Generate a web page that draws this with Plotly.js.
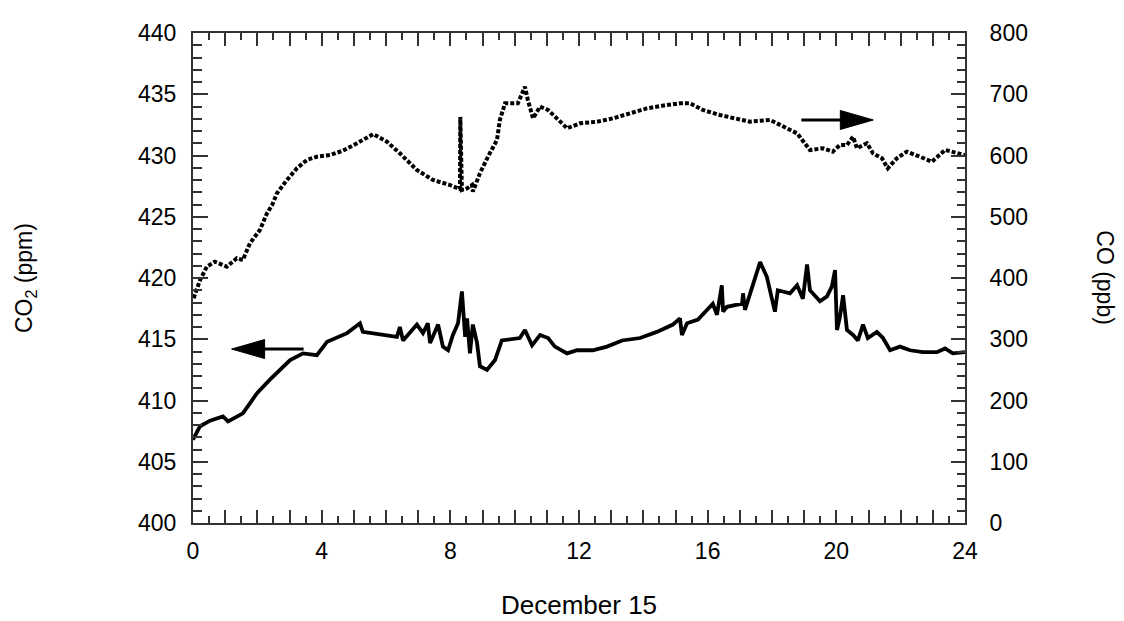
<!DOCTYPE html>
<html>
<head>
<meta charset="utf-8">
<script src="https://cdn.plot.ly/plotly-3.0.1.min.js"></script>
<style>html,body{margin:0;padding:0;background:#fff;}#chart{width:1124px;height:621px;}</style>
</head>
<body>
<div id="chart"></div>
<script>
// CO2 (ppm), left axis
const co2Hours = [0.0,0.22,0.53,0.93,1.09,1.55,1.99,2.39,3.02,3.42,3.85,4.17,4.79,5.19,5.28,5.9,6.34,6.43,6.53,6.96,7.15,7.3,7.37,7.62,7.77,7.93,8.08,8.24,8.36,8.46,8.52,8.61,8.70,8.83,8.92,9.14,9.39,9.6,10.16,10.32,10.54,10.79,11.04,11.25,11.63,11.94,12.43,12.87,13.34,13.9,14.42,14.92,15.14,15.2,15.36,15.7,15.85,16.16,16.29,16.44,16.48,16.6,17.07,17.1,17.16,17.38,17.63,17.84,18.09,18.18,18.56,18.78,18.96,19.09,19.18,19.49,19.71,19.86,19.96,20.02,20.11,20.21,20.33,20.52,20.67,20.83,20.98,21.26,21.45,21.67,21.98,22.29,22.69,23.13,23.38,23.62,24.0];
const co2Values = [406.8,407.9,408.35,408.7,408.3,408.95,410.6,411.7,413.3,413.85,413.7,414.8,415.5,416.3,415.6,415.35,415.2,416.0,414.9,416.2,415.5,416.3,414.7,416.2,414.4,414.1,415.35,416.3,418.9,415.2,416.7,413.85,416.2,414.7,412.8,412.5,413.3,414.9,415.1,415.75,414.5,415.35,415.1,414.4,413.85,414.1,414.1,414.4,414.9,415.1,415.6,416.2,416.7,415.35,416.3,416.6,417.0,417.9,417.0,419.4,417.25,417.65,417.9,418.75,417.4,419.3,421.3,420.1,417.25,419.0,418.75,419.4,418.3,421.1,419.0,418.1,418.5,419.3,420.65,415.75,416.8,418.6,415.75,415.35,414.9,416.2,415.1,415.6,415.1,414.1,414.4,414.1,413.95,413.95,414.25,413.85,413.95];

// CO (ppb), right axis
const coHours = [0.02,0.22,0.43,0.68,1.05,1.36,1.55,1.77,2.08,2.3,2.46,2.61,2.92,3.23,3.54,3.85,4.26,4.66,5.1,5.6,6.03,6.43,6.96,7.46,7.99,8.08,8.30,8.31,8.33,8.36,8.52,8.67,8.7,8.92,9.17,9.45,9.54,9.7,10.1,10.32,10.41,10.57,10.79,11.04,11.31,11.63,12.03,12.56,13.06,13.58,14.11,14.73,15.14,15.45,15.85,16.38,16.91,17.31,17.94,18.34,18.78,19.02,19.18,19.58,19.89,20.11,20.33,20.52,20.64,20.95,21.14,21.42,21.6,21.88,22.19,22.6,22.97,23.38,23.75,24.0];
const coValues = [367,396.7,418.5,426.7,418.5,432.2,429.4,456.7,478.4,505.6,519.2,538.3,560,579.1,592.7,598,600.8,607.8,620,635,622.5,603.6,576.3,560,551.8,550.2,545,663,543.7,543.7,546.4,551.8,541,571,598,625.3,658,685.2,685.2,712.3,690.6,660.7,679.7,674.3,660.7,644.4,652.6,655.2,660.7,668.9,677,682.4,685.2,685.2,674.3,666.1,660.7,655.2,658,647,636.2,620,609,611.8,606.3,617.1,617.1,630.7,611.8,620,603.6,595.4,579.1,595.4,606.3,598,589.9,609,603.6,600.8];

// Tick labels and titles
const xTickLabels = ["0","4","8","12","16","20","24"];
const xLabelHours = [0,4,8,12,16,20,24];
const xTitle = "December 15";
const yLeftTitle = "CO<sub>2</sub> (ppm)";
const yRightTitle = "CO (ppb)";

const xTickVals = [];
const xTickText = [];
for (let h = 0; h <= 24; h++) {
  xTickVals.push(h);
  const i = xLabelHours.indexOf(h);
  xTickText.push(i >= 0 ? xTickLabels[i] : " ");
}

const FONT = "Liberation Sans, Arial, sans-serif";
const AXC = "#333";

const traces = [
  {x: co2Hours, y: co2Values, type: "scatter", mode: "lines", yaxis: "y",
   line: {color: "#000", width: 3.8}, hoverinfo: "skip"},
  {x: coHours, y: coValues, type: "scatter", mode: "lines", yaxis: "y2",
   line: {color: "#000", width: 4, dash: "4px,2px"}, hoverinfo: "skip"}
];

const layout = {
  width: 1124, height: 621,
  margin: {l: 193, r: 159, t: 33, b: 98, pad: 0},
  paper_bgcolor: "#fff", plot_bgcolor: "#fff",
  showlegend: false,
  font: {family: FONT, size: 23, color: "#000"},
  xaxis: {
    range: [0, 24], showgrid: false, zeroline: false,
    showline: true, linecolor: AXC, linewidth: 2, mirror: "ticks",
    ticks: "inside", ticklen: 13, tickwidth: 2, tickcolor: AXC,
    tickmode: "array", tickvals: xTickVals, ticktext: xTickText,
    ticklabelstandoff: 6,
    minor: {dtick: 0.5, ticks: "inside", ticklen: 7, tickwidth: 2, tickcolor: AXC},
    tickfont: {size: 23, family: FONT}
  },
  yaxis: {
    range: [400, 440], showgrid: false, zeroline: false,
    showline: true, linecolor: AXC, linewidth: 2,
    ticks: "inside", ticklen: 15, tickwidth: 2, tickcolor: AXC,
    dtick: 5, tick0: 400, ticklabelstandoff: 10,
    minor: {dtick: 1, ticks: "inside", ticklen: 9, tickwidth: 2, tickcolor: AXC},
    tickfont: {size: 23, family: FONT}
  },
  yaxis2: {
    range: [0, 800], overlaying: "y", side: "right", showgrid: false, zeroline: false,
    showline: true, linecolor: AXC, linewidth: 2,
    ticks: "inside", ticklen: 14, tickwidth: 2, tickcolor: AXC,
    dtick: 100, tick0: 0, ticklabelstandoff: 18,
    minor: {dtick: 20, ticks: "inside", ticklen: 8, tickwidth: 2, tickcolor: AXC},
    tickfont: {size: 23, family: FONT}
  },
  annotations: [
    {text: xTitle, xref: "paper", yref: "paper", x: 0.5, y: -0.168, xanchor: "center", yanchor: "middle",
     showarrow: false, font: {size: 26, family: FONT, color: "#000"}},
    {text: yLeftTitle, xref: "paper", yref: "paper", x: -0.2176, y: 0.5, xanchor: "center", yanchor: "middle",
     textangle: -90, showarrow: false, font: {size: 23, family: FONT, color: "#000"}},
    {text: yRightTitle, xref: "paper", yref: "paper", x: 1.181, y: 0.5, xanchor: "center", yanchor: "middle",
     textangle: 90, showarrow: false, font: {size: 23, family: FONT, color: "#000"}}
  ],
  shapes: [
    {type: "path", xref: "x", yref: "y", xsizemode: "pixel", ysizemode: "pixel",
     xanchor: 1.2, yanchor: 414.2, path: "M0,0 L33,9.5 L33,-9.5 Z",
     fillcolor: "#000", line: {color: "#000", width: 1}},
    {type: "path", xref: "x", yref: "y", xsizemode: "pixel", ysizemode: "pixel",
     xanchor: 1.2, yanchor: 414.2, path: "M30,0 L72,0",
     line: {color: "#000", width: 3}},
    {type: "path", xref: "x", yref: "y", xsizemode: "pixel", ysizemode: "pixel",
     xanchor: 21.15, yanchor: 432.9, path: "M0,0 L-33,9.5 L-33,-9.5 Z",
     fillcolor: "#000", line: {color: "#000", width: 1}},
    {type: "path", xref: "x", yref: "y", xsizemode: "pixel", ysizemode: "pixel",
     xanchor: 21.15, yanchor: 432.9, path: "M-30,0 L-72,0",
     line: {color: "#000", width: 3}}
  ]
};

Plotly.newPlot("chart", traces, layout, {displayModeBar: false, staticPlot: true});
</script>
</body>
</html>
